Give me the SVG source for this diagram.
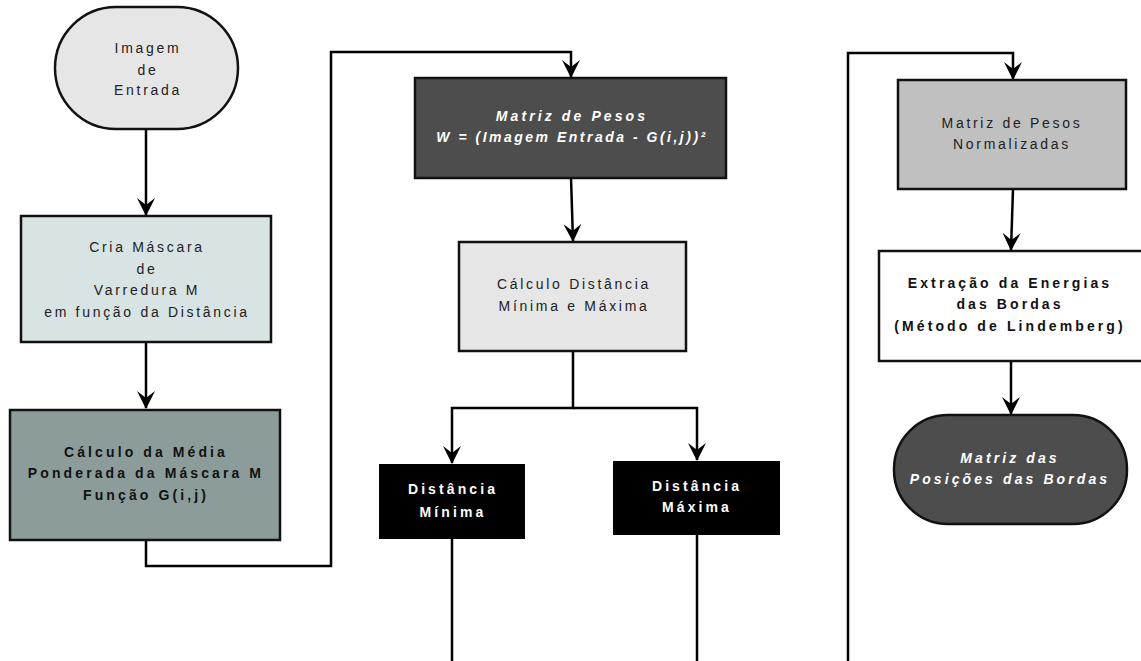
<svg xmlns="http://www.w3.org/2000/svg" width="1141" height="661" viewBox="0 0 1141 661">
<defs>
<marker id="arr" viewBox="0 0 18 18" refX="17" refY="9" markerWidth="18" markerHeight="18" markerUnits="userSpaceOnUse" orient="auto">
<path d="M0,0 L18,9 L0,18 L7,9 Z" fill="#000"/>
</marker>
<style>
.box{stroke:#111;stroke-width:2.5}
.t{font-family:"Liberation Sans",Arial,sans-serif;font-size:14px;letter-spacing:2.7px;text-anchor:middle;fill:#222}
.b{font-weight:bold;letter-spacing:3.1px;fill:#111}
.w{fill:#fff}
.i{font-style:italic}
.c{fill:none;stroke:#000;stroke-width:2.5}
</style>
</defs>
<rect width="1141" height="661" fill="#fff"/>
<g id="connectors">
<path class="c" d="M146,129 V215" marker-end="url(#arr)"/>
<path class="c" d="M146,342 V408" marker-end="url(#arr)"/>
<path class="c" d="M146,540 V566 H331 V52 H571 V77" marker-end="url(#arr)"/>
<path class="c" d="M571,178 L573,241" marker-end="url(#arr)"/>
<path class="c" d="M573,351 V408 H452 V463" marker-end="url(#arr)"/>
<path class="c" d="M573,408 H697 V460" marker-end="url(#arr)"/>
<path class="c" d="M452,539 V661"/>
<path class="c" d="M697,535 V661"/>
<path class="c" d="M848,661 V53 H1013 V79" marker-end="url(#arr)"/>
<path class="c" d="M1013,189 L1011,250" marker-end="url(#arr)"/>
<path class="c" d="M1011,361 V414" marker-end="url(#arr)"/>
</g>
<g id="n1">
<rect class="box" x="55" y="7" width="183" height="122" rx="61" ry="61" fill="#e6e6e6"/>
<text class="t" x="148" y="53">Imagem</text>
<text class="t" x="148" y="75">de</text>
<text class="t" x="148" y="95">Entrada</text>
</g>
<g id="n2">
<rect class="box" x="21" y="216" width="250" height="126" fill="#d8e3e3"/>
<text class="t" x="147" y="252">Cria Máscara</text>
<text class="t" x="147" y="274">de</text>
<text class="t" x="147" y="295">Varredura M</text>
<text class="t" x="147" y="317">em função da Distância</text>
</g>
<g id="n3">
<rect class="box" x="10" y="410" width="270" height="130" fill="#8c9c9b"/>
<text class="t b" x="146" y="457">Cálculo da Média</text>
<text class="t b" x="146" y="478">Ponderada da Máscara M</text>
<text class="t b" x="146" y="500">Função G(i,j)</text>
</g>
<g id="n4">
<rect class="box" x="415" y="78" width="311" height="100" fill="#4d4d4d"/>
<text class="t b w i" x="572" y="121">Matriz de Pesos</text>
<text class="t b w i" x="572" y="142" style="letter-spacing:2.5px">W = (Imagem Entrada - G(i,j))²</text>
</g>
<g id="n5">
<rect class="box" x="459" y="242" width="227" height="109" fill="#e6e6e6"/>
<text class="t" x="574" y="289">Cálculo Distância</text>
<text class="t" x="574" y="311">Mínima e Máxima</text>
</g>
<g id="n6">
<rect x="379" y="464" width="146" height="75" fill="#000"/>
<text class="t b w" x="453" y="494">Distância</text>
<text class="t b w" x="453" y="517">Mínima</text>
</g>
<g id="n7">
<rect x="613" y="461" width="167" height="74" fill="#000"/>
<text class="t b w" x="697" y="491">Distância</text>
<text class="t b w" x="697" y="512">Máxima</text>
</g>
<g id="n8">
<rect class="box" x="898" y="80" width="228" height="109" fill="#c0c0c0"/>
<text class="t" x="1012" y="128">Matriz de Pesos</text>
<text class="t" x="1012" y="149">Normalizadas</text>
</g>
<g id="n9">
<rect class="box" x="879" y="251" width="264" height="110" fill="#fff"/>
<text class="t b" x="1010" y="288">Extração da Energias</text>
<text class="t b" x="1010" y="309">das Bordas</text>
<text class="t b" x="1010" y="331">(Método de Lindemberg)</text>
</g>
<g id="n10">
<rect class="box" x="894" y="415" width="233" height="109" rx="54" ry="54" fill="#4d4d4d"/>
<text class="t b w i" x="1010" y="463">Matriz das</text>
<text class="t b w i" x="1010" y="484">Posições das Bordas</text>
</g>
</svg>
